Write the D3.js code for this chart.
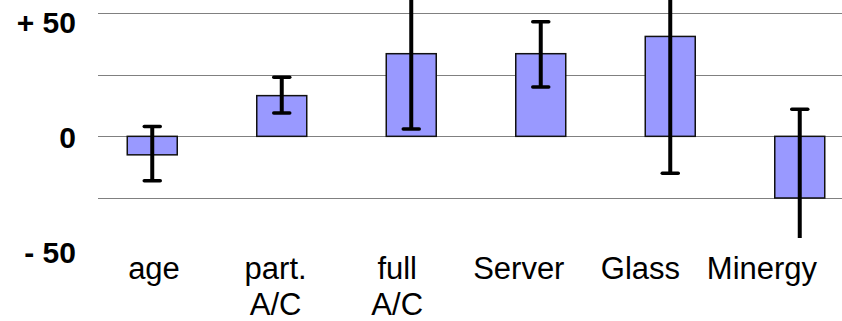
<!DOCTYPE html>
<html>
<head>
<meta charset="utf-8">
<script src="https://cdn.jsdelivr.net/npm/d3@7/dist/d3.min.js"></script>
<style>
  html, body { margin: 0; padding: 0; background: #ffffff; }
  svg { display: block; }
</style>
</head>
<body>
<svg id="chart" width="842" height="321"></svg>
<script>
// Categories (multi-line labels split on "\n")
const categories = ["age", "part.\nA/C", "full\nA/C", "Server", "Glass", "Minergy"];
// Mean change per category
const values = [-7.5, 16.5, 33.5, 33.5, 40.5, -25];
// Error bar limits
const errLow = [-18, 9.5, 3, 20, -15, -45];
const errHigh = [4, 24, 60, 46.5, 62, 11];
// Gridline levels and axis labels
const gridLevels = [50, 25, 0, -25];
const tickValues = [50, 0, -50];
const tickLabels = ["+ 50", "0", "- 50"];

const W = 842, H = 321;
const svg = d3.select("#chart");

const x = d3.scaleBand()
  .domain(d3.range(categories.length))
  .range([87.5, 864.5])
  .paddingInner(0.614)
  .paddingOuter(0.307);

const y = d3.scaleLinear().domain([-25, 50]).range([198, 13]);

// Axis label positions (text baselines)
const yLabel = d3.scaleLinear().domain([-50, 50]).range([263, 33]);
// Category label centres
const xLabel = d3.scalePoint().domain(d3.range(categories.length)).range([154, 762]);

// Gridlines
svg.append("g")
  .selectAll("line")
  .data(gridLevels)
  .join("line")
  .attr("x1", 98).attr("x2", W)
  .attr("y1", d => Math.round(y(d)) + 0.5)
  .attr("y2", d => Math.round(y(d)) + 0.5)
  .attr("stroke", "#808080")
  .attr("stroke-width", 1.2);

// Y labels
svg.append("g")
  .selectAll("text")
  .data(tickValues)
  .join("text")
  .attr("x", 76)
  .attr("y", d => yLabel(d))
  .attr("text-anchor", "end")
  .attr("font-family", "Liberation Sans, Arial, sans-serif")
  .attr("font-weight", "bold")
  .attr("font-size", 30)
  .attr("fill", "#000")
  .text((d, i) => tickLabels[i]);

// Clip region for the plot area
svg.append("clipPath").attr("id", "plot-clip")
  .append("rect").attr("x", 0).attr("y", -100).attr("width", W).attr("height", 338);

const plot = svg.append("g").attr("clip-path", "url(#plot-clip)");

// Bars
plot.append("g")
  .selectAll("rect")
  .data(values)
  .join("rect")
  .attr("x", (d, i) => x(i))
  .attr("width", x.bandwidth())
  .attr("y", d => y(Math.max(0, d)))
  .attr("height", d => Math.abs(y(d) - y(0)))
  .attr("fill", "#9999ff")
  .attr("stroke", "#111")
  .attr("stroke-width", 1.5);

// Error bars
const eb = plot.append("g").attr("stroke", "#000");
categories.forEach((c, i) => {
  const cx = x(i) + x.bandwidth() / 2;
  eb.append("line")
    .attr("x1", cx).attr("x2", cx)
    .attr("y1", y(errLow[i])).attr("y2", y(errHigh[i]))
    .attr("stroke-width", 4);
  [errLow[i], errHigh[i]].forEach(v => {
    eb.append("line")
      .attr("x1", cx - 8).attr("x2", cx + 8)
      .attr("y1", y(v)).attr("y2", y(v))
      .attr("stroke-width", 3.5)
      .attr("stroke-linecap", "round");
  });
});

// Category labels
const lbl = svg.append("g")
  .attr("font-family", "Liberation Sans, Arial, sans-serif")
  .attr("font-size", 31)
  .attr("fill", "#000");
categories.forEach((c, i) => {
  const t = lbl.append("text")
    .attr("x", xLabel(i))
    .attr("y", 279)
    .attr("text-anchor", "middle");
  c.split("\n").forEach((line, k) => {
    t.append("tspan")
      .attr("x", xLabel(i))
      .attr("dy", k === 0 ? 0 : 36)
      .text(line);
  });
});
</script>
</body>
</html>
